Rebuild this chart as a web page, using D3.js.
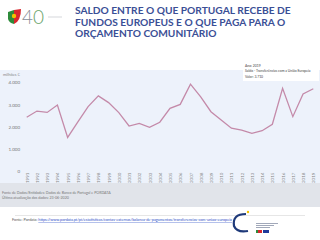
<!DOCTYPE html>
<html>
<head>
  <meta charset="utf-8">
  <title>Saldo Portugal UE</title>
  <style>
    body { margin: 0; background: #fff; }
    svg { display: block; font-family: Lato, "Open Sans", sans-serif; }
  </style>
</head>
<body>
  <svg width="320" height="240"></svg>
  <script src="https://d3js.org/d3.v7.min.js"></script>
  <script>
    // saldo das transferencias com a UE, milhoes de euros
    var years = d3.range(1991, 2020);
    var saldo = [2430, 2710, 2650, 2980, 1530, 2230, 2910, 3390, 3090, 2640,
                 2040, 2160, 1980, 2210, 2830, 3010, 3920, 3350, 2680, 2310,
                 1940, 1860, 1710, 1830, 2120, 3730, 2460, 3480, 3710];
    var yTicks = [0, 1000, 2000, 3000, 4000];
    var titleLines = ["SALDO ENTRE O QUE PORTUGAL RECEBE DE",
                      "FUNDOS EUROPEUS E O QUE PAGA PARA O",
                      "ORÇAMENTO COMUNITÁRIO"];

    var svg = d3.select("svg");
    var fmt = d3.formatLocale({decimal: ",", thousands: ".", grouping: [3], currency: ["", " €"]}).format(",d");

    // logo 40 anos
    svg.append("path").attr("d", "M8,12 L14,10 L14,24 Q9,23 8,19 Z").attr("fill", "#2e8b3a");
    svg.append("path").attr("d", "M14,10 L21,9 Q21,21 14,24 Z").attr("fill", "#d8282f");
    svg.append("circle").attr("cx", 14).attr("cy", 16).attr("r", 2.2).attr("fill", "#f2c200");
    svg.append("text").attr("x", 22).attr("y", 24).attr("font-size", 19).attr("font-weight", 300)
      .attr("fill", "#8a8f99").text("4");
    svg.append("text").attr("x", 33).attr("y", 24).attr("font-size", 19).attr("font-weight", 300)
      .attr("fill", "#6aa56c").text("0");
    svg.append("line").attr("x1", 48).attr("x2", 62).attr("y1", 17).attr("y2", 17)
      .attr("stroke", "#b8bcc4").attr("stroke-width", 0.6);

    svg.selectAll(".title").data(titleLines).enter().append("text")
      .attr("class", "title")
      .attr("x", 75).attr("y", (d, i) => 14 + i * 11.5)
      .attr("font-size", 10.2).attr("font-weight", 700)
      .attr("fill", "#3b4f96")
      .text(d => d);

    // painel do grafico
    svg.append("rect").attr("x", 0).attr("y", 70).attr("width", 320).attr("height", 113)
      .attr("fill", "#edf2fb");
    svg.append("rect").attr("x", 0).attr("y", 183).attr("width", 320).attr("height", 24)
      .attr("fill", "#e1e4ea");

    var x = d3.scaleLinear().domain([1991, 2019]).range([26.7, 313.3]);
    var y = d3.scaleLinear().domain([0, 4000]).range([171.5, 82.3]);

    var yAxis = svg.append("g").attr("transform", "translate(21,0)")
      .call(d3.axisLeft(y).tickValues(yTicks).tickSize(0).tickPadding(1).tickFormat(fmt));
    yAxis.select(".domain").remove();
    yAxis.selectAll("text").attr("font-size", 4.5).attr("fill", "#777").attr("font-family", "Lato, sans-serif");

    svg.append("text").attr("x", 3).attr("y", 75.5).attr("font-size", 4).attr("fill", "#888").text("milhões €");

    var xAxis = svg.append("g").attr("transform", "translate(0,173)")
      .call(d3.axisBottom(x).tickValues(years).tickSize(0).tickFormat(d3.format("d")));
    xAxis.select(".domain").remove();
    xAxis.selectAll("text")
      .attr("font-size", 4.5).attr("fill", "#888").attr("font-family", "Lato, sans-serif")
      .attr("transform", "rotate(-90)")
      .attr("x", -10).attr("y", 0).attr("dy", "0.35em")
      .attr("text-anchor", "start");

    var line = d3.line().x((d, i) => x(years[i])).y(d => y(d));
    svg.append("path").datum(saldo)
      .attr("d", line)
      .attr("fill", "none").attr("stroke", "#c48aa9").attr("stroke-width", 1.3);

    // tooltip
    var last = years.length - 1;
    var tip = svg.append("g").attr("transform", "translate(243,61)");
    tip.append("rect").attr("width", 76).attr("height", 20).attr("fill", "#fff");
    var tipLines = ["Ano: " + years[last], "Saldo - Transferências com a União Europeia", "Valor: " + fmt(saldo[last])];
    tip.selectAll("text").data(tipLines).enter().append("text")
      .attr("x", 2).attr("y", (d, i) => 5.5 + i * 5.5)
      .attr("font-size", 3.4).attr("fill", "#444").text(d => d);

    // rodape
    var foot = ["Fonte de Dados/Entidades: Dados de Banco de Portugal e PORDATA",
                "Última atualização dos dados: 23-06-2020"];
    svg.selectAll(".foot").data(foot).enter().append("text")
      .attr("x", 2).attr("y", (d, i) => 194 + i * 5)
      .attr("font-size", 3.6).attr("fill", "#777").text(d => d);

    svg.append("line").attr("x1", 15).attr("x2", 305).attr("y1", 215.5).attr("y2", 215.5)
      .attr("stroke", "#ccc").attr("stroke-width", 0.5);
    var src = svg.append("text").attr("x", 12).attr("y", 221).attr("font-size", 3.5).attr("fill", "#555")
      .attr("textLength", 220).attr("lengthAdjust", "spacingAndGlyphs");
    src.append("tspan").text("Fonte: Pordata: ");
    src.append("tspan").attr("fill", "#2c4fc7").attr("text-decoration", "underline")
      .text("https://www.pordata.pt/pt/estatisticas/contas-externas/balanca-de-pagamentos/transferencias-com-uniao-europeia");

    // logo inferior
    svg.append("path").attr("d", "M246,214 Q232,214 234,226 Q237,233 248,231")
      .attr("fill", "none").attr("stroke", "#1f3a7a").attr("stroke-width", 2.2);
    svg.append("circle").attr("cx", 248).attr("cy", 212).attr("r", 1.2).attr("fill", "#f2c200");
    [0, 1, 2].forEach(i => svg.append("rect").attr("x", 256).attr("y", 223 + i * 2)
      .attr("width", 22 - i * 4).attr("height", 0.8).attr("fill", "#8a93a8"));
    svg.append("rect").attr("x", 256).attr("y", 230).attr("width", 6).attr("height", 3).attr("fill", "#2e8b3a");
    svg.append("rect").attr("x", 258).attr("y", 230).attr("width", 4).attr("height", 3).attr("fill", "#d8282f");
    svg.append("rect").attr("x", 263).attr("y", 230).attr("width", 6).attr("height", 3).attr("fill", "#1f3a9a");
  </script>
</body>
</html>
